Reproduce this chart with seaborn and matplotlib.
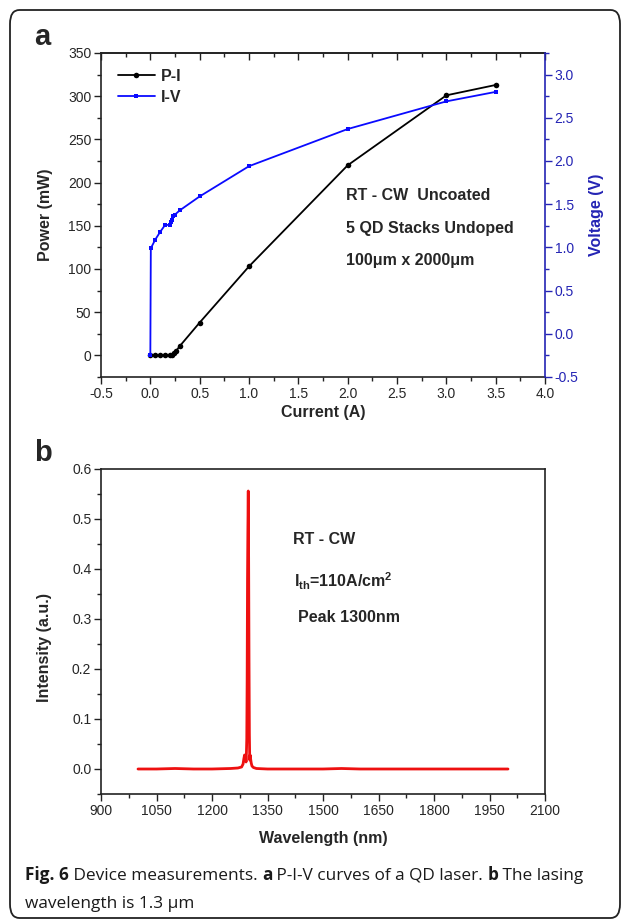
import numpy as np
import pandas as pd
import matplotlib
matplotlib.use("Agg")
import matplotlib.pyplot as plt
import seaborn as sns
from matplotlib.ticker import MultipleLocator
from matplotlib.patches import FancyBboxPatch
from matplotlib.lines import Line2D

# P-I curve (current in A, power in mW)
current_pi = [0.0, 0.05, 0.1, 0.15, 0.2, 0.22, 0.24, 0.26, 0.3, 0.5, 1.0, 2.0, 3.0, 3.5]
power_mw = [0, 0, 0, 0, 0, 1, 3, 5, 11, 38, 103, 220, 301, 313]

# I-V curve (current in A, voltage in V)
current_iv = [0.0, 0.005, 0.05, 0.1, 0.15, 0.2, 0.21, 0.22, 0.23, 0.25, 0.3, 0.5, 1.0, 2.0, 3.0, 3.5]
voltage_v = [-0.25, 0.99, 1.09, 1.18, 1.26, 1.26, 1.29, 1.32, 1.36, 1.38, 1.43, 1.59, 1.94, 2.37, 2.69, 2.80]

# lasing spectrum (wavelength nm, intensity a.u.)
wavelength_nm = [1000, 1050, 1100, 1150, 1200, 1250, 1270, 1280, 1284, 1286, 1288, 1290, 1291,
                 1292, 1293, 1294, 1295, 1296, 1297, 1298, 1299, 1300, 1301, 1302, 1303, 1304,
                 1306, 1308, 1312, 1320, 1350, 1400, 1450, 1500, 1550, 1600, 1650, 1700, 1750,
                 1800, 1850, 1900, 1950, 2000]
intensity = [0.000, 0.000, 0.001, 0.000, 0.000, 0.001, 0.002, 0.004, 0.010, 0.020, 0.028, 0.018, 0.026,
             0.014, 0.032, 0.060, 0.180, 0.380, 0.480, 0.556, 0.420, 0.220, 0.070, 0.018, 0.028, 0.022,
             0.012, 0.006, 0.003, 0.001, 0.000, 0.000, 0.000, 0.000, 0.001, 0.000, 0.000, 0.000, 0.000,
             0.000, 0.000, 0.000, 0.000, 0.000]

sns.set_style("ticks")
plt.rcParams['font.family'] = ['Liberation Sans', 'DejaVu Sans']
plt.rcParams['mathtext.fontset'] = 'custom'
plt.rcParams['mathtext.bf'] = 'Liberation Sans:bold'
plt.rcParams['mathtext.rm'] = 'Liberation Sans:bold'

W, H = 629, 923
fig = plt.figure(figsize=(W / 100, H / 100), dpi=100)
fig.patch.set_facecolor('white')

def fx(px):
    return px / W

def fy(py):
    return 1 - py / H

blue_line = '#0a0aff'
blue_axis = '#2424b4'
red = '#ee1010'
lblfont = dict(fontsize=11.5, fontweight='bold')

# ---------------- panel a ----------------
ax = fig.add_axes([fx(101), fy(377), fx(444), 324 / H])
ax2 = ax.twinx()

df_pi = pd.DataFrame({'I': current_pi, 'P': power_mw})
df_iv = pd.DataFrame({'I': current_iv, 'V': voltage_v})
sns.lineplot(data=df_pi, x='I', y='P', ax=ax, color='black', lw=1.3, marker='o', markersize=4,
             markeredgewidth=0, sort=False, estimator=None, legend=False)
sns.lineplot(data=df_iv, x='I', y='V', ax=ax2, color=blue_line, lw=1.3, marker='s', markersize=3.5,
             markeredgewidth=0, sort=False, estimator=None, legend=False)

ax.set_xlim(-0.5, 4.0)
ax.set_ylim(-25, 350)
ax2.set_ylim(-0.5, 3.25)
ax.xaxis.set_major_locator(MultipleLocator(0.5))
ax.xaxis.set_minor_locator(MultipleLocator(0.25))
ax.yaxis.set_major_locator(MultipleLocator(50))
ax.yaxis.set_minor_locator(MultipleLocator(25))
ax2.yaxis.set_major_locator(MultipleLocator(0.5))
ax2.yaxis.set_minor_locator(MultipleLocator(0.25))
ax.xaxis.set_major_formatter(plt.FuncFormatter(lambda v, p: f"{v:.1f}"))
ax2.yaxis.set_major_formatter(plt.FuncFormatter(lambda v, p: f"{v:.1f}"))

ax.tick_params(which='both', direction='out', labelsize=10, width=1.0, color='#222222', pad=2)
ax.tick_params(which='major', length=5)
ax.tick_params(which='minor', length=3)
ax2.tick_params(axis='y', which='both', direction='out', labelsize=10, colors=blue_axis, width=1.0, pad=2)
ax2.tick_params(axis='y', which='major', length=5)
ax2.tick_params(axis='y', which='minor', length=3)

top = ax.secondary_xaxis('top')
top.xaxis.set_major_locator(MultipleLocator(0.5))
top.xaxis.set_minor_locator(MultipleLocator(0.25))
top.tick_params(which='both', direction='in', labeltop=False, width=1.0, color='#222222')
top.tick_params(which='major', length=5)
top.tick_params(which='minor', length=3)

for s in ['left', 'bottom', 'top']:
    ax.spines[s].set_color('#222222')
    ax.spines[s].set_linewidth(1.2)
top.spines['top'].set_linewidth(1.2)
top.spines['top'].set_color('#222222')
ax.spines['right'].set_visible(False)
for s in ['left', 'bottom', 'top']:
    ax2.spines[s].set_visible(False)
ax2.spines['right'].set_color(blue_axis)
ax2.spines['right'].set_linewidth(1.2)

ax.set_xlabel('Current (A)', **lblfont)
ax.set_ylabel('Power (mW)', **lblfont)
ax2.set_ylabel('Voltage (V)', color=blue_axis, **lblfont)
ax.xaxis.label.set_va('center')
ax.yaxis.label.set_va('center')
ax2.yaxis.label.set_va('center')
ax.xaxis.set_label_coords(0.5, (377 - 413) / 324)
ax.yaxis.set_label_coords((45 - 101) / 444, 0.5)
ax2.yaxis.set_label_coords((597 - 101) / 444, 0.5)

handles = [Line2D([], [], color='black', lw=1.3, marker='o', markersize=4, markeredgewidth=0),
           Line2D([], [], color=blue_line, lw=1.3, marker='s', markersize=3.5, markeredgewidth=0)]
ax2.legend(handles, ['P-I', 'I-V'], loc='upper left', bbox_to_anchor=((118 - 101) / 444, (377 - 69) / 324),
           frameon=False, borderpad=0, borderaxespad=0, handlelength=2.3, handletextpad=0.4,
           labelspacing=0.35, prop=dict(weight='bold', size=11.5))

for txt, ypx in [('RT - CW  Uncoated', 195), ('5 QD Stacks Undoped', 229), ('100\u03bcm x 2000\u03bcm', 261)]:
    fig.text(fx(346), fy(ypx), txt, ha='left', va='center', **lblfont)

# ---------------- panel b ----------------
bx = fig.add_axes([fx(101), fy(794), fx(444), 325 / H])
df_sp = pd.DataFrame({'wl': wavelength_nm, 'I': intensity})
sns.lineplot(data=df_sp, x='wl', y='I', ax=bx, color=red, lw=2.0, sort=False, estimator=None, legend=False)
bx.set_xlim(900, 2100)
bx.set_ylim(-0.05, 0.6)
bx.xaxis.set_major_locator(MultipleLocator(150))
bx.xaxis.set_minor_locator(MultipleLocator(75))
bx.yaxis.set_major_locator(MultipleLocator(0.1))
bx.yaxis.set_minor_locator(MultipleLocator(0.05))
bx.yaxis.set_major_formatter(plt.FuncFormatter(lambda v, p: f"{v:.1f}"))
bx.tick_params(which='both', direction='out', labelsize=10, width=1.0, color='#222222', pad=2)
bx.tick_params(which='major', length=5)
bx.tick_params(which='minor', length=3)
for s in bx.spines.values():
    s.set_color('#222222')
    s.set_linewidth(1.2)
bx.set_xlabel('Wavelength (nm)', **lblfont)
bx.set_ylabel('Intensity (a.u.)', **lblfont)
bx.xaxis.label.set_va('center')
bx.yaxis.label.set_va('center')
bx.xaxis.set_label_coords(0.5, (794 - 839) / 325)
bx.yaxis.set_label_coords((45 - 101) / 444, (794 - 647) / 325)

fig.text(fx(293), fy(539), 'RT - CW', ha='left', va='center', **lblfont)
fig.text(fx(294), fy(581), r'I$_{\mathbf{th}}$=110A/cm$^{\mathbf{2}}$', ha='left', va='center', **lblfont)
fig.text(fx(298), fy(617), 'Peak 1300nm', ha='left', va='center', **lblfont)

# panel letters
fig.text(fx(34), fy(45), 'a', ha='left', va='baseline', fontsize=21, fontweight='bold')
fig.text(fx(34), fy(461), 'b', ha='left', va='baseline', fontsize=21, fontweight='bold')

# caption, pieces placed one after another
cap_font = ['Open Sans', 'DejaVu Sans']
cap_size = 12.4
pieces = [('Fig. 6', 'bold'), (' Device measurements. ', 'normal'), ('a', 'bold'),
          (' P-I-V curves of a QD laser. ', 'normal'), ('b', 'bold'), (' The lasing', 'normal')]
renderer = fig.canvas.get_renderer()
xpos = 25
for txt, wt in pieces:
    t = fig.text(fx(xpos), fy(880), txt, ha='left', va='baseline', fontsize=cap_size, fontweight=wt,
                 family=cap_font, color='#1a1a1a')
    xpos += t.get_window_extent(renderer).width
fig.text(fx(25), fy(908), 'wavelength is 1.3 \u03bcm', ha='left', va='baseline', fontsize=cap_size,
         family=cap_font, color='#1a1a1a')

# rounded frame around the figure
frame = FancyBboxPatch((fx(10), fy(918)), fx(610), (918 - 10) / H,
                       boxstyle='round,pad=0,rounding_size=0.015', transform=fig.transFigure,
                       fill=False, edgecolor='#222222', lw=1.3)
fig.patches.append(frame)

fig.savefig('out.png', dpi=100, facecolor='white')
